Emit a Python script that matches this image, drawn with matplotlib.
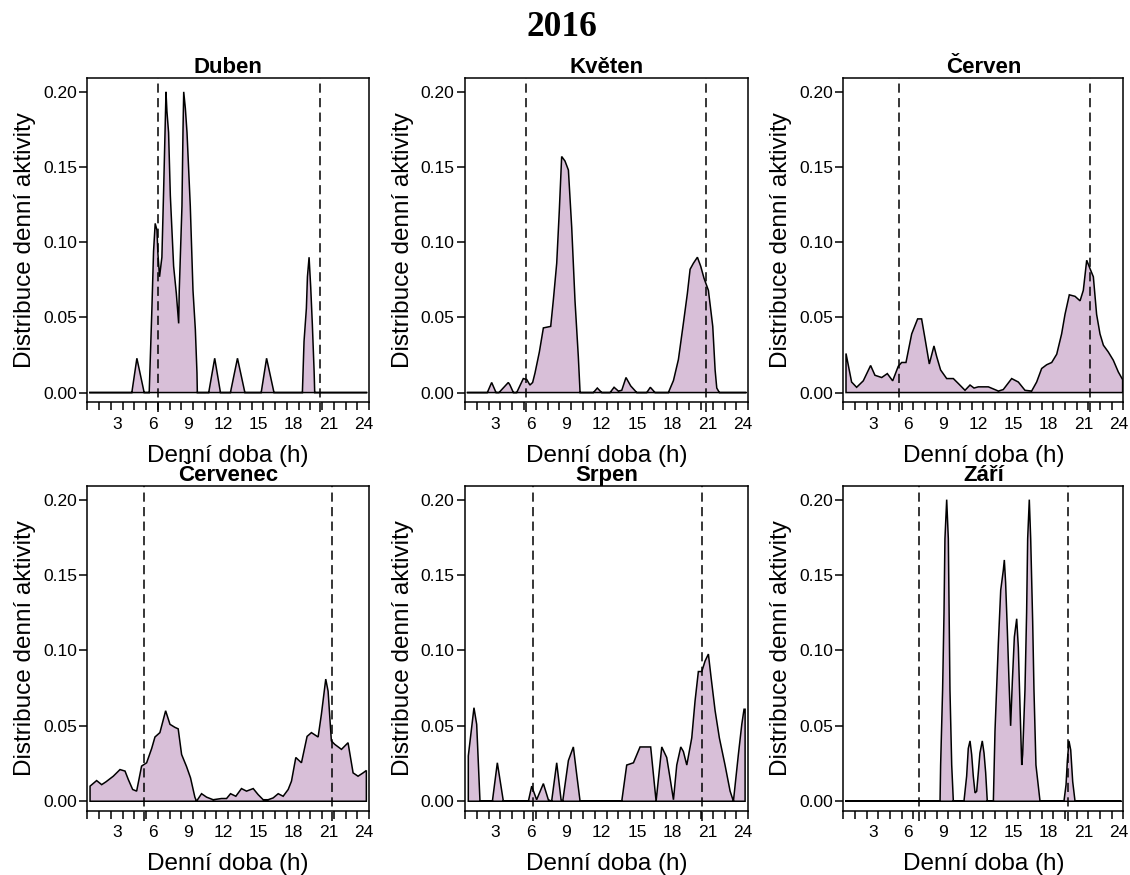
import numpy as np
import matplotlib
matplotlib.use("Agg")
import matplotlib.pyplot as plt

# hustota denní aktivity po měsících (hodiny, hodnota hustoty)
mesice = ["Duben", "Květen", "Červen", "Červenec", "Srpen", "Září"]

duben_h = [0.15, 3.79, 4.22, 4.84, 5.27, 5.50, 5.64, 5.78, 5.93, 6.01, 6.15, 6.35, 6.50, 6.70,
           6.78, 6.92, 7.07, 7.35, 7.58, 7.78, 7.83, 8.06, 8.15, 8.21, 8.35, 8.49, 8.77, 9.00,
           9.20, 9.34, 9.37, 10.34, 10.85, 11.34, 12.19, 12.79, 13.42, 14.81, 15.27, 15.90,
           18.32, 18.46, 18.66, 18.75, 18.89, 19.03, 19.17, 19.32, 19.37, 23.85]
duben_y = [0, 0, 0.0228, 0, 0, 0.056, 0.094, 0.1125, 0.108, 0.0926, 0.077, 0.090, 0.135, 0.200,
           0.187, 0.173, 0.131, 0.084, 0.066, 0.046, 0.068, 0.124, 0.175, 0.200, 0.189, 0.173,
           0.124, 0.068, 0.042, 0.013, 0, 0, 0.0228, 0, 0, 0.0228, 0, 0, 0.0228, 0,
           0, 0.034, 0.056, 0.077, 0.090, 0.070, 0.045, 0.014, 0, 0]

kveten_h = [0.15, 1.89, 2.26, 2.63, 2.88, 3.67, 3.81, 4.10, 4.38, 4.94, 5.23, 5.50, 5.73, 5.93,
            6.30, 6.64, 7.26, 7.49, 7.77, 7.99, 8.19, 8.47, 8.76, 9.04, 9.32, 9.60, 9.75, 10.88,
            11.21, 11.58, 12.29, 12.63, 12.99, 13.28, 13.64, 14.04, 14.55, 15.40, 15.70, 16.10,
            17.23, 17.66, 18.08, 18.50, 18.84, 19.07, 19.35, 19.69, 19.97, 20.25, 20.62, 20.76,
            20.99, 21.19, 21.33, 21.55, 23.85]
kveten_y = [0, 0, 0.0067, 0, 0, 0.0067, 0.005, 0, 0, 0.0093, 0.0087, 0.005, 0.0067, 0.013,
            0.027, 0.043, 0.044, 0.062, 0.086, 0.121, 0.157, 0.154, 0.148, 0.110, 0.061, 0.024, 0,
            0, 0.003, 0, 0, 0.0035, 0.001, 0.0015, 0.010, 0.0044, 0, 0, 0.0035, 0,
            0, 0.008, 0.022, 0.046, 0.066, 0.082, 0.086, 0.090, 0.084, 0.076, 0.068, 0.059,
            0.044, 0.015, 0.003, 0, 0]

cerven_h = [0.23, 0.71, 1.14, 1.71, 2.34, 2.71, 3.29, 3.77, 4.23, 4.71, 5.00, 5.37, 5.86, 6.37,
            6.71, 7.00, 7.37, 7.77, 8.00, 8.34, 8.86, 9.43, 9.86, 10.43, 10.86, 11.20, 11.57,
            12.43, 13.29, 13.71, 14.43, 15.00, 15.57, 16.14, 16.57, 17.00, 17.43, 17.86, 18.29,
            18.71, 19.00, 19.37, 19.86, 20.29, 20.57, 20.86, 21.14, 21.43, 21.71, 22.00, 22.29,
            22.71, 23.14, 23.57, 23.94]
cerven_y = [0.026, 0.007, 0.0035, 0.0078, 0.018, 0.0115, 0.010, 0.0126, 0.0078, 0.0175, 0.020,
            0.020, 0.039, 0.049, 0.049, 0.036, 0.019, 0.031, 0.024, 0.015, 0.0093, 0.0093, 0.006,
            0.0015, 0.005, 0.003, 0.0038, 0.0038, 0.001, 0.002, 0.0093, 0.007, 0.0015, 0.001,
            0.007, 0.016, 0.0185, 0.020, 0.0255, 0.039, 0.052, 0.065, 0.064, 0.061, 0.068, 0.088,
            0.0825, 0.077, 0.052, 0.039, 0.0315, 0.027, 0.0215, 0.0137, 0.0086]

cervenec_h = [0.23, 0.79, 1.22, 1.59, 2.21, 2.78, 3.21, 3.49, 3.86, 4.20, 4.62, 5.05, 5.48, 5.76,
              6.18, 6.67, 7.04, 7.46, 7.74, 8.03, 8.45, 8.79, 9.16, 9.30, 9.73, 10.16, 10.72,
              11.43, 11.86, 12.20, 12.65, 13.13, 13.56, 14.13, 14.55, 14.98, 15.40, 15.83, 16.26,
              16.68, 17.11, 17.39, 17.76, 18.24, 18.72, 19.09, 19.66, 19.94, 20.31, 20.51, 20.79,
              21.08, 21.65, 22.21, 22.64, 23.06, 23.49, 23.77]
cervenec_y = [0.010, 0.0137, 0.011, 0.0129, 0.0166, 0.021, 0.020, 0.0144, 0.0078, 0.0067, 0.0233,
              0.0255, 0.035, 0.0426, 0.0455, 0.060, 0.051, 0.049, 0.048, 0.031, 0.023, 0.0155,
              0.0027, 0, 0.005, 0.0027, 0.001, 0.0018, 0.0018, 0.005, 0.0033, 0.0084, 0.0067,
              0.0084, 0.0044, 0.001, 0.001, 0.0022, 0.005, 0.0033, 0.0078, 0.0133, 0.029, 0.0255,
              0.043, 0.0455, 0.0426, 0.0577, 0.081, 0.073, 0.040, 0.0377, 0.0344, 0.0388, 0.0188,
              0.0166, 0.0188, 0.0204]

srpen_h = [0.28, 0.76, 0.99, 1.27, 2.32, 2.74, 3.25, 5.37, 5.65, 6.07, 6.64, 7.06, 7.34, 7.77,
           8.14, 8.28, 8.76, 9.18, 9.46, 9.75, 13.28, 13.70, 14.27, 14.83, 15.73, 16.19, 16.67,
           17.09, 17.37, 17.66, 17.94, 18.28, 18.50, 18.79, 19.21, 19.49, 19.77, 20.06, 20.34,
           20.62, 20.85, 21.19, 21.55, 22.03, 22.46, 22.74, 23.16, 23.45, 23.64, 23.73]
srpen_y = [0.030, 0.062, 0.051, 0, 0, 0.0255, 0, 0, 0.010, 0.001, 0.0117, 0.001, 0, 0.0255,
           0.001, 0, 0.027, 0.036, 0.018, 0, 0, 0.024, 0.0255, 0.036, 0.036, 0, 0.036,
           0.029, 0.0155, 0.001, 0.024, 0.036, 0.033, 0.024, 0.042, 0.0665, 0.086, 0.086, 0.093,
           0.0976, 0.082, 0.060, 0.042, 0.024, 0.0067, 0, 0.031, 0.051, 0.061, 0.061]

zari_h = [0.15, 8.29, 8.34, 8.51, 8.63, 8.71, 8.86, 9.00, 9.14, 9.29, 9.43, 10.34, 10.57, 10.71,
          10.86, 11.00, 11.14, 11.29, 11.43, 11.57, 11.71, 11.91, 12.06, 12.20, 12.34, 12.86,
          13.00, 13.29, 13.49, 13.71, 13.80, 13.91, 14.06, 14.20, 14.34, 14.49, 14.66, 14.86,
          15.00, 15.14, 15.29, 15.37, 15.57, 15.71, 15.80, 15.94, 16.06, 16.23, 16.34, 16.51,
          16.86, 18.91, 19.09, 19.20, 19.34, 19.49, 19.66, 19.86, 23.85]
zari_y = [0, 0, 0.024, 0.074, 0.125, 0.174, 0.200, 0.174, 0.074, 0.024, 0, 0, 0.0166, 0.035,
          0.040, 0.031, 0.0166, 0.0055, 0.0066, 0.019, 0.032, 0.040, 0.032, 0.019, 0, 0,
          0.0466, 0.105, 0.140, 0.153, 0.160, 0.145, 0.113, 0.080, 0.050, 0.080, 0.109, 0.121,
          0.102, 0.064, 0.024, 0.031, 0.074, 0.125, 0.174, 0.200, 0.174, 0.119, 0.074, 0.024,
          0, 0, 0.011, 0.0266, 0.040, 0.034, 0.013, 0, 0]

# východ a západ slunce (h)
vychod = [6.01, 5.17, 4.80, 4.85, 5.73, 6.51]
zapad = [19.83, 20.40, 21.14, 20.85, 20.11, 19.23]

data = [(duben_h, duben_y), (kveten_h, kveten_y), (cerven_h, cerven_y),
        (cervenec_h, cervenec_y), (srpen_h, srpen_y), (zari_h, zari_y)]

plt.rcParams['font.family'] = ['Liberation Sans', 'DejaVu Sans']

fig = plt.figure(figsize=(11.3, 8.75), dpi=100)

sloupce = [(0.0773, 0.2493), (0.4115, 0.2507), (0.7463, 0.2478)]
radky = [(0.5402, 0.3703), (0.0731, 0.3714)]

for i, mesic in enumerate(mesice):
    left, width = sloupce[i % 3]
    bottom, height = radky[i // 3]
    ax = fig.add_axes([left, bottom, width, height])
    x, y = data[i]
    xs = np.r_[x[0], x, x[-1]]
    ys = np.r_[0, y, 0]
    ax.fill(xs, ys, facecolor='thistle', edgecolor='black', linewidth=1.1)

    for t in (vychod[i], zapad[i]):
        ax.plot([t, t], [-0.03, 1], transform=ax.get_xaxis_transform(), clip_on=False,
                color='black', linewidth=1.1, linestyle=(0, (6, 3.5)))

    ax.set_xlim(0, 24)
    ax.set_ylim(-0.0065, 0.209)
    ax.set_xticks(range(25))
    ax.set_xticklabels([])
    for h in range(3, 25, 3):
        ax.text(h - 0.43, -0.044, str(h), transform=ax.get_xaxis_transform(),
                ha='center', va='top', fontsize=12.5)
    ax.set_yticks([0, 0.05, 0.10, 0.15, 0.20])
    ax.set_yticklabels(['0.00', '0.05', '0.10', '0.15', '0.20'], fontsize=12.5)
    ax.tick_params(axis='both', direction='out', length=5.5, width=1.1, pad=2, color='black')
    for s in ax.spines.values():
        s.set_linewidth(1.1)

    ax.set_title(mesic, fontsize=16, fontweight='bold', pad=-1)
    ax.set_xlabel('Denní doba (h)', fontsize=17.5, labelpad=23)
    ax.set_ylabel('Distribuce denní aktivity', fontsize=17.5, labelpad=5)

fig.text(0.497, 0.968, '2016', ha='center', va='center', fontsize=25.5,
         fontweight='bold', family='Liberation Serif')

fig.savefig('out.png', dpi=100)
